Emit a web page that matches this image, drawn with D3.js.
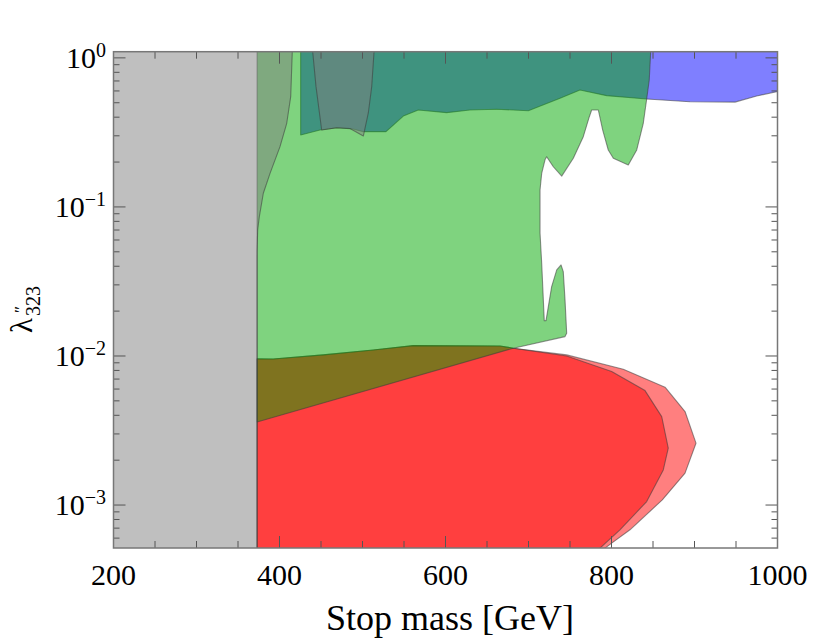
<!DOCTYPE html>
<html>
<head>
<meta charset="utf-8">
<script src="https://cdn.jsdelivr.net/npm/d3@7"></script>
<style>
  body { margin: 0; background: #fff; }
  text { font-family: "Liberation Serif", "DejaVu Serif", serif; fill: #000; }
</style>
</head>
<body>
<svg id="plot" width="830" height="641"></svg>
<script>
// regions as [stop mass (GeV), lambda''_323] outlines
const blueRegion = [
	[425.5, 1.5], [1010, 1.5], [1010, 0.6], [999, 0.593], [974.9, 0.555], [948.8, 0.505],
	[894.6, 0.508], [842.4, 0.530], [794.2, 0.558], [762.0, 0.609], [738.0, 0.536],
	[699.8, 0.442], [661.7, 0.452], [629.5, 0.447], [601.4, 0.429], [567.2, 0.447],
	[549.2, 0.407], [528.3, 0.320], [500.6, 0.320], [488.5, 0.333], [468.9, 0.340],
	[448.8, 0.328], [425.5, 0.304]
];

const redOuterRegion = [
	[373, 0.00956], [392.5, 0.00954], [452.8, 0.01017], [513.0, 0.01098], [561.2, 0.01174],
	[665.7, 0.01168], [681.7, 0.01128], [746.0, 0.01017], [814.2, 0.00815], [864.5, 0.00618],
	[888.6, 0.00424], [901.8, 0.00260], [888.6, 0.001636], [861.2, 0.001083],
	[822.3, 0.000682], [800.2, 0.000555], [792.2, 0.000514], [784, 0.00045], [373, 0.00045]
];

const redInnerRegion = [
	[373, 0.00956], [392.5, 0.00954], [452.8, 0.01017], [513.0, 0.01098], [561.2, 0.01174],
	[665.7, 0.01168], [681.7, 0.01128], [746.0, 0.0100], [800.2, 0.00786], [840.4, 0.00586],
	[860.5, 0.00392], [868.4, 0.00241], [862.4, 0.00172], [842.4, 0.001055],
	[810.2, 0.000682], [786.1, 0.000514], [778, 0.00045], [373, 0.00045]
];

const greenRegion = [
	[373, 1.5], [848.5, 1.5], [847.2, 1.1], [845.5, 0.711], [842.4, 0.530], [838.3, 0.364],
	[830.4, 0.241], [820.2, 0.191], [802.2, 0.212], [796.1, 0.241], [789.4, 0.328],
	[784.1, 0.447], [776.1, 0.447], [773.3, 0.403], [766.0, 0.296], [754.0, 0.212],
	[740.0, 0.161], [729.9, 0.186], [721.9, 0.217], [719.9, 0.207], [715.9, 0.168],
	[713.9, 0.130], [713.9, 0.0669], [715.9, 0.0419], [719.0, 0.01727], [721.1, 0.01727],
	[727.9, 0.0292], [734.0, 0.0378], [739.2, 0.0408], [741.9, 0.0368], [744.0, 0.0238],
	[746.0, 0.01421], [744.0, 0.01349], [681.7, 0.01128], [373, 0.00361]
];

const greyRegion = [
	[150, 1.5], [416, 1.5], [415.4, 1.1], [413.5, 0.549], [408.7, 0.364], [400.6, 0.2537],
	[388.6, 0.168], [380.5, 0.1235], [375.7, 0.0861], [373.7, 0.0701], [373, 0.05],
	[373, 0.0003], [150, 0.0003]
];

const greyLensRegion = [
	[439.5, 1.5], [440.0, 1.1], [444.0, 0.641], [450.8, 0.328], [468.9, 0.340],
	[484.9, 0.336], [501.0, 0.299], [507.0, 0.427], [511.1, 0.641], [513.9, 1.1], [514.3, 1.5]
];

const xTickValues = d3.range(200, 1001, 50);
const xLabelValues = [200, 400, 600, 800, 1000];
const yLabelExponents = [0, -1, -2, -3];

const svg = d3.select('#plot');
const plotLeft = 113.5, plotRight = 777.5, plotTop = 51.7, plotBottom = 548;

const x = d3.scaleLinear().domain([200, 1000]).range([plotLeft, plotRight]);
const y = d3.scaleLog().domain([0.000515, 1.1]).range([plotBottom, plotTop]);

svg.append('rect').attr('width', 830).attr('height', 641).attr('fill', '#fff');

svg.append('defs').append('clipPath').attr('id', 'plot-clip')
	.append('rect')
	.attr('x', plotLeft).attr('y', plotTop)
	.attr('width', plotRight - plotLeft).attr('height', plotBottom - plotTop);

const line = d3.line().x(d => x(d[0])).y(d => y(d[1]));

// order matters: translucent layers blend like the original
const layers = [
	{data: blueRegion, fill: '#0000ff'},
	{data: redOuterRegion, fill: '#ff0000'},
	{data: redInnerRegion, fill: '#ff0000'},
	{data: greenRegion, fill: '#00a700'},
	{data: greyRegion, fill: '#808080'},
	{data: greyLensRegion, fill: '#808080'}
];

const regions = svg.append('g').attr('clip-path', 'url(#plot-clip)');
regions.selectAll('.region')
	.data(layers)
	.enter()
	.append('path')
	.classed('region', true)
	.attr('d', d => line(d.data) + 'Z')
	.attr('fill', d => d.fill)
	.attr('fill-opacity', 0.5)
	.attr('stroke', '#3c3c3c')
	.attr('stroke-opacity', 0.55)
	.attr('stroke-width', 1.1)
	.attr('stroke-linejoin', 'round');

// ticks on all four sides, pointing inwards
const ticks = svg.append('g').attr('stroke', '#555').attr('stroke-width', 1);

xTickValues.forEach(v => {
	const len = v % 200 === 0 ? 12 : 7;
	ticks.append('line').attr('x1', x(v)).attr('x2', x(v)).attr('y1', plotBottom).attr('y2', plotBottom - len);
	ticks.append('line').attr('x1', x(v)).attr('x2', x(v)).attr('y1', plotTop).attr('y2', plotTop + len);
});

const yTickValues = [];
for (let k = -4; k <= 0; k++) {
	for (let m = 1; m <= 9; m++) {
		const v = m * Math.pow(10, k);
		if (v >= y.domain()[0] && v <= y.domain()[1]) yTickValues.push({v: v, major: m === 1});
	}
}
yTickValues.forEach(t => {
	const len = t.major ? 12 : 6;
	ticks.append('line').attr('x1', plotLeft).attr('x2', plotLeft + len).attr('y1', y(t.v)).attr('y2', y(t.v));
	ticks.append('line').attr('x1', plotRight).attr('x2', plotRight - len).attr('y1', y(t.v)).attr('y2', y(t.v));
});

// frame
svg.append('rect')
	.attr('x', plotLeft).attr('y', plotTop)
	.attr('width', plotRight - plotLeft).attr('height', plotBottom - plotTop)
	.attr('fill', 'none')
	.attr('stroke', '#777')
	.attr('stroke-width', 1.5);

// x labels
svg.selectAll('.x-label')
	.data(xLabelValues)
	.enter()
	.append('text')
	.classed('x-label', true)
	.attr('x', d => x(d))
	.attr('y', 585)
	.attr('text-anchor', 'middle')
	.style('font-size', '30px')
	.text(d => d);

// y labels as 10^e
const yLabels = svg.selectAll('.y-label')
	.data(yLabelExponents)
	.enter()
	.append('text')
	.classed('y-label', true)
	.attr('x', 106)
	.attr('y', d => y(Math.pow(10, d)) + 10)
	.attr('text-anchor', 'end')
	.style('font-size', '30px');
yLabels.append('tspan').text('10');
yLabels.append('tspan')
	.attr('dy', -11)
	.style('font-size', '20px')
	.text(d => d === 0 ? '0' : '\u2212' + (-d));

// axis titles
svg.append('text')
	.attr('x', 450)
	.attr('y', 630)
	.attr('text-anchor', 'middle')
	.style('font-size', '36px')
	.text('Stop mass [GeV]');

const yTitle = svg.append('g').attr('transform', 'translate(32,333) rotate(-90)');
const yTitleText = yTitle.append('text').attr('x', 0).attr('y', 0).style('font-size', '31px');
yTitleText.append('tspan').text('\u03bb');
yTitleText.append('tspan').attr('dy', 8).attr('dx', 2).style('font-size', '20px').text('323');
yTitle.append('text')
	.attr('x', 20).attr('y', -6)
	.style('font-size', '17px')
	.text('\u2033');
</script>
</body>
</html>
